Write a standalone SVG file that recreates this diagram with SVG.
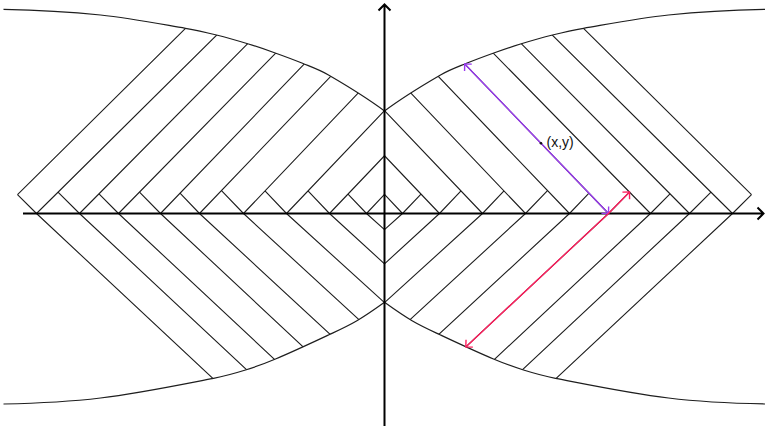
<svg xmlns="http://www.w3.org/2000/svg" width="765" height="426" viewBox="0 0 765 426">
<defs>
<style>
.ln{fill:none;stroke:#1e1e1e;stroke-width:1.1}
.crv{fill:none;stroke:#1e1e1e;stroke-width:1.2}
.ax{fill:none;stroke:#000;stroke-width:2}
.lbl{font-family:"Liberation Sans",Arial,sans-serif;font-size:14px;fill:#111}
</style>
<clipPath id="cu"><path d="M3.5,9.3 C35.83,9.95 68.17,11.64 100.5,15 C128.83,17.95 157.17,23.43 185.5,28.3 C195.83,30.08 206.17,32.43 216.5,35 C227.17,37.66 237.83,40.75 248.5,44 C257.17,46.64 265.83,49.61 274.5,52.7 C283.83,56.03 293.17,59.45 302.5,63.3 C311.17,66.88 319.83,69.96 328.5,75 C347.17,85.86 365.83,97 384.5,111 C403.17,97 421.83,85.86 440.5,75 C449.17,69.96 457.83,66.88 466.5,63.3 C475.83,59.45 485.17,56.03 494.5,52.7 C503.17,49.61 511.83,46.64 520.5,44 C531.17,40.75 541.83,37.66 552.5,35 C562.83,32.43 573.17,30.08 583.5,28.3 C611.83,23.43 640.17,17.95 668.5,15 C700.83,11.64 733.17,9.950 765.5,9.3 L765.5,214.5 L3.5,214.5 Z"/></clipPath>
<clipPath id="cl"><path d="M3.5,404 C35.83,403.35 68.17,401.94 100.5,398 C138.17,393.4 175.83,385.57 213.5,378.3 C224.17,376.24 234.83,373.32 245.5,370 C255.5,366.89 265.5,363.2 275.5,359 C293.17,351.58 310.83,343.29 328.5,335 C337.83,330.62 347.17,326.45 356.5,321 C365.83,315.55 375.17,309 384.5,302.3 C393.83,309 403.17,315.55 412.5,321 C421.83,326.45 431.17,330.62 440.5,335 C458.17,343.29 475.83,351.58 493.5,359 C503.5,363.2 513.5,366.89 523.5,370 C534.17,373.32 544.83,376.24 555.5,378.3 C593.17,385.57 630.83,393.4 668.5,398 C700.83,401.94 733.17,403.35 765.5,404 L765.5,212.5 L3.5,212.5 Z"/></clipPath>
<marker id="mp" markerUnits="userSpaceOnUse" markerWidth="14" markerHeight="14" refX="0" refY="0" orient="auto-start-reverse" overflow="visible"><path d="M-5,-5 L0,0 L-5,5" fill="none" stroke="#9b3cf0" stroke-width="1.4"/></marker>
<marker id="mr" markerUnits="userSpaceOnUse" markerWidth="14" markerHeight="14" refX="0" refY="0" orient="auto-start-reverse" overflow="visible"><path d="M-5,-5 L0,0 L-5,5" fill="none" stroke="#ff1f5e" stroke-width="1.4"/></marker>
</defs>
<rect width="765" height="426" fill="#fff"/>
<g id="curves">
<path class="crv" d="M3.5,9.3 C35.83,9.95 68.17,11.64 100.5,15 C128.83,17.95 157.17,23.43 185.5,28.3 C195.83,30.08 206.17,32.43 216.5,35 C227.17,37.66 237.83,40.75 248.5,44 C257.17,46.64 265.83,49.61 274.5,52.7 C283.83,56.03 293.17,59.45 302.5,63.3 C311.17,66.88 319.83,69.96 328.5,75 C347.17,85.86 365.83,97 384.5,111 C403.17,97 421.83,85.86 440.5,75 C449.17,69.96 457.83,66.88 466.5,63.3 C475.83,59.45 485.17,56.03 494.5,52.7 C503.17,49.61 511.83,46.64 520.5,44 C531.17,40.75 541.83,37.66 552.5,35 C562.83,32.43 573.17,30.08 583.5,28.3 C611.83,23.43 640.17,17.95 668.5,15 C700.83,11.64 733.17,9.95 765.5,9.3"/>
<path class="crv" d="M3.5,404 C35.83,403.35 68.17,401.94 100.5,398 C138.17,393.4 175.83,385.57 213.5,378.3 C224.17,376.24 234.83,373.32 245.5,370 C255.5,366.89 265.5,363.2 275.5,359 C293.17,351.58 310.83,343.29 328.5,335 C337.83,330.62 347.17,326.45 356.5,321 C365.83,315.55 375.17,309 384.5,302.3 C393.83,309 403.17,315.55 412.5,321 C421.83,326.45 431.17,330.62 440.5,335 C458.17,343.29 475.83,351.58 493.5,359 C503.5,363.2 513.5,366.89 523.5,370 C534.17,373.32 544.83,376.24 555.5,378.3 C593.17,385.57 630.83,393.4 668.5,398 C700.83,401.94 733.17,403.35 765.5,404"/>
</g>
<g id="upper-lines" clip-path="url(#cu)">
<path class="ln" d="M366.5,213.5 L384.5,194.42 M329.5,213.5 L384.5,155.75 M286.5,213.5 L384.5,110.6 M243.5,213.5 L384.5,65.45 M199.5,213.5 L384.5,20.2 M160.5,213.5 L384.5,-19.46 M118.5,213.5 L384.5,-57.82 M79.5,213.5 L384.5,-94.55 M36.5,213.5 L384.5,-131.02 M17.5,194.69 L384.5,-168.64"/>
<path class="ln" d="M402.5,213.5 L384.5,194.42 M439.5,213.5 L384.5,155.75 M482.5,213.5 L384.5,110.6 M525.5,213.5 L384.5,65.45 M569.5,213.5 L384.5,20.2 M608.5,213.5 L384.5,-19.46 M650.5,213.5 L384.5,-57.82 M689.5,213.5 L384.5,-94.55 M732.5,213.5 L384.5,-131.02 M751.5,194.69 L384.5,-168.64"/>
<path class="ln" d="M366.5,213.5 L348,194.07 M329.5,213.5 L308,190.92 M286.5,213.5 L265,190.92 M243.5,213.5 L221.5,190.51 M199.5,213.5 L180,193.22 M160.5,213.5 L139.5,192.08 M118.5,213.5 L99,193.8 M79.5,213.5 L58,192.21 M36.5,213.5 L17.5,194.69"/>
<path class="ln" d="M402.5,213.5 L421,194.07 M439.5,213.5 L461,190.92 M482.5,213.5 L504,190.92 M525.5,213.5 L547.5,190.51 M569.5,213.5 L589,193.22 M608.5,213.5 L629.5,192.08 M650.5,213.5 L670,193.8 M689.5,213.5 L711,192.21 M732.5,213.5 L751.5,194.69"/>
</g>
<g id="lower-lines" clip-path="url(#cl)">
<path class="ln" d="M366.5,213.5 L384.5,229.7 M329.5,213.5 L384.5,263.83 M286.5,213.5 L384.5,302.68 M243.5,213.5 L384.5,343.22 M199.5,213.5 L384.5,384.6 M160.5,213.5 L384.5,422.94 M118.5,213.5 L384.5,462.21 M79.5,213.5 L384.5,498.68 M36.5,213.5 L384.5,538.88"/>
<path class="ln" d="M402.5,213.5 L384.5,229.7 M439.5,213.5 L384.5,263.83 M482.5,213.5 L384.5,302.68 M525.5,213.5 L384.5,343.22 M569.5,213.5 L384.5,384.6 M608.5,213.5 L384.5,422.94 M650.5,213.5 L384.5,462.21 M689.5,213.5 L384.5,498.68 M732.5,213.5 L384.5,538.88"/>
</g>
<g id="axes">
<path class="ax" d="M23,213.5 L763.5,213.5 M757.5,207.5 L763.5,213.5 L757.5,219.5"/>
<path class="ax" d="M384.5,426 L384.5,4.5 M378.5,10.5 L384.5,4.5 L390.5,10.5"/>
</g>
<g id="connectors">
<path id="purple" d="M608.5,213.5 L464.7,64" fill="none" stroke="#9b3cf0" stroke-width="1.4" marker-start="url(#mp)" marker-end="url(#mp)"/>
<path id="red" d="M465.8,346.9 L608.5,213.5 L629.5,192.08" fill="none" stroke="#ff1f5e" stroke-width="1.4" marker-start="url(#mr)" marker-end="url(#mr)"/>
</g>
<g id="point">
<circle cx="541" cy="143.3" r="1.3" fill="#111"/>
<text class="lbl" x="546.5" y="146.8">(x,y)</text>
</g>
</svg>
